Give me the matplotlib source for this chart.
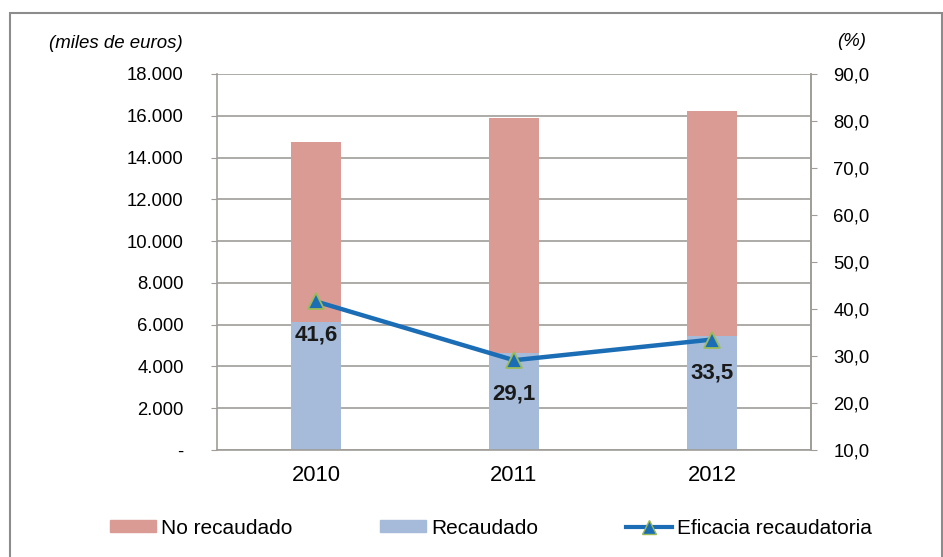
"""Recaudado vs no recaudado, 2010-2012, con eficacia recaudatoria (%)."""
import matplotlib.pyplot as plt
from matplotlib.patches import Rectangle
from matplotlib.lines import Line2D
from matplotlib.ticker import FuncFormatter, MultipleLocator

plt.rcParams["font.family"] = ["Liberation Sans", "DejaVu Sans"]

YEARS = ["2010", "2011", "2012"]
RECAUDADO = [6140, 4620, 5440]
NO_RECAUDADO = [8600, 11270, 10790]
EFICACIA = [41.6, 29.1, 33.5]

PINK = "#DA9B95"
BLUE_BAR = "#A5BBD9"
LINE = "#1B6DB5"
MARKER_EDGE = "#9BBB59"
GRID = "#A09D98"


def fmt_left(v, _):
    if v == 0:
        return "-"
    return f"{v:,.0f}".replace(",", ".")


def fmt_right(v, _):
    return f"{v:.1f}".replace(".", ",")


fig = plt.figure(figsize=(9.43, 5.57), dpi=100)
ax = fig.add_axes([217 / 943, 107 / 557, 594 / 943, 376 / 557])

x = range(len(YEARS))
ax.bar(x, RECAUDADO, width=0.25, color=BLUE_BAR, zorder=2)
ax.bar(x, NO_RECAUDADO, width=0.25, bottom=RECAUDADO, color=PINK, zorder=2)
ax.set_xlim(-0.5, 2.5)
ax.set_ylim(0, 18000)
ax.yaxis.set_major_locator(MultipleLocator(2000))
ax.yaxis.set_major_formatter(FuncFormatter(fmt_left))
ax.set_xticks(list(x))
ax.set_xticklabels(YEARS)
ax.grid(axis="y", color=GRID, lw=1.2, zorder=0)
ax.set_axisbelow(True)
for s in ax.spines.values():
    s.set_color(GRID)
    s.set_linewidth(1.2)
ax.spines["top"].set_visible(False)
ax.tick_params(axis="y", length=4, color=GRID, labelsize=13.3, pad=20)
ax.tick_params(axis="x", length=0, labelsize=15.8, pad=11)

ax2 = ax.twinx()
ax2.plot(x, EFICACIA, color=LINE, lw=3.2, marker="^", ms=12,
         markerfacecolor=LINE, markeredgecolor=MARKER_EDGE, markeredgewidth=1.3, zorder=5)
ax2.set_ylim(10, 90)
ax2.yaxis.set_major_locator(MultipleLocator(10))
ax2.yaxis.set_major_formatter(FuncFormatter(fmt_right))
ax2.tick_params(axis="y", length=4, color=GRID, labelsize=13.3, pad=12)
for s in ax2.spines.values():
    s.set_visible(False)
ax2.spines["right"].set_visible(True)
ax2.spines["right"].set_color(GRID)
ax2.spines["right"].set_linewidth(1.2)

for i, v in enumerate(EFICACIA):
    ax2.annotate(fmt_right(v, None), (i, v), xytext=(0, -24), textcoords="offset points",
                 ha="center", va="center", fontsize=16, fontweight="bold", color="#1A1A1A")

fig.text(183 / 943, 1 - 44 / 557, "(miles de euros)", ha="right", va="center",
         fontsize=13.4, style="italic")
fig.text(852 / 943, 1 - 41 / 557, "(%)", ha="center", va="center",
         fontsize=13.4, style="italic")

# figure frame
fig.patches.append(Rectangle((10 / 943, -0.05), 932 / 943, 1.05 - 13 / 557,
                             transform=fig.transFigure, fill=False,
                             edgecolor="#8C8C8C", lw=1.5))

handles = [
    Rectangle((0, 0), 1, 1, color=PINK),
    Rectangle((0, 0), 1, 1, color=BLUE_BAR),
    Line2D([], [], color=LINE, lw=3, marker="^", ms=10, markerfacecolor=LINE,
           markeredgecolor=MARKER_EDGE),
]
fig.legend(handles, ["No recaudado", "Recaudado", "Eficacia recaudatoria"],
           loc="center", bbox_to_anchor=(491 / 943, 1 - 528 / 557), ncol=3,
           frameon=False, fontsize=15, handlelength=2.2, handleheight=0.55,
           handletextpad=0.25, columnspacing=4.2)

fig.savefig("out.png", dpi=100)
